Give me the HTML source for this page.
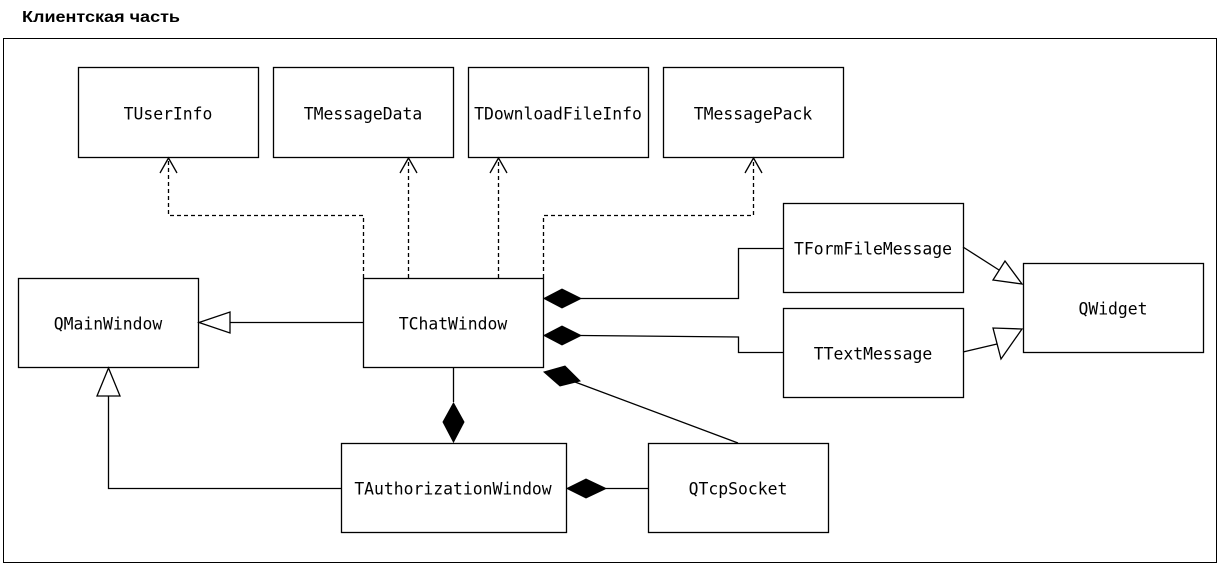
<!DOCTYPE html>
<html><head><meta charset="utf-8"><style>
body{margin:0;background:#fff;width:1222px;height:567px;overflow:hidden}
</style></head><body>
<svg width="1222" height="567" xmlns="http://www.w3.org/2000/svg">
<text x="22" y="22" font-family="Liberation Sans, sans-serif" font-weight="bold" font-size="16" textLength="158" lengthAdjust="spacingAndGlyphs">Клиентская часть</text>
<rect x="3.5" y="38.5" width="1213" height="524" fill="none" stroke="#000" stroke-width="1"/>
<g fill="#fff" stroke="#000" stroke-width="1.3">
<rect x="78.5" y="67.5" width="180" height="90"/>
<rect x="273.5" y="67.5" width="180" height="90"/>
<rect x="468.5" y="67.5" width="180" height="90"/>
<rect x="663.5" y="67.5" width="180" height="90"/>
<rect x="18.5" y="278.5" width="180" height="89"/>
<rect x="363.5" y="278.5" width="180" height="89"/>
<rect x="783.5" y="203.5" width="180" height="89"/>
<rect x="783.5" y="308.5" width="180" height="89"/>
<rect x="1023.5" y="263.5" width="180" height="89"/>
<rect x="341.5" y="443.5" width="225" height="89"/>
<rect x="648.5" y="443.5" width="180" height="89"/>
</g>
<g font-family="DejaVu Sans Mono, Liberation Mono, monospace" font-size="16.4" text-anchor="middle" dominant-baseline="middle">
<text x="168" y="115">TUserInfo</text>
<text x="363" y="115">TMessageData</text>
<text x="558" y="115">TDownloadFileInfo</text>
<text x="753" y="115">TMessagePack</text>
<text x="108" y="325">QMainWindow</text>
<text x="453" y="325">TChatWindow</text>
<text x="873" y="250">TFormFileMessage</text>
<text x="873" y="355">TTextMessage</text>
<text x="1113" y="310">QWidget</text>
<text x="453" y="490">TAuthorizationWindow</text>
<text x="738" y="490">QTcpSocket</text>
</g>
<g fill="none" stroke="#000" stroke-width="1.3" stroke-dasharray="4,3">
<path d="M363.5 278V215.5H168.5V160"/>
<path d="M408.5 278V160"/>
<path d="M498.5 278V160"/>
<path d="M543.5 278V215.5H753.5V160"/>
</g>
<g fill="none" stroke="#000" stroke-width="1.3">
<path d="M160 173L168.5 158L177 173"/>
<path d="M400 173L408.5 158L417 173"/>
<path d="M490 173L498.5 158L507 173"/>
<path d="M745 173L753.5 158L762 173"/>
<path d="M363 322.5H230"/>
<path d="M581 298.5H738.5V248.5H783"/>
<path d="M581 335.5L738.5 337V352.5H783"/>
<path d="M575 382L738 443"/>
<path d="M453.5 367V402"/>
<path d="M341 488.5H108.5V396"/>
<path d="M648 488.5H606"/>
<path d="M963 247L999 270"/>
<path d="M963 352L997 344"/>
</g>
<g fill="#fff" stroke="#000" stroke-width="1.3">
<polygon points="199,322.5 230,312 230,333"/>
<polygon points="108.5,368 97,396 120,396"/>
<polygon points="1022,284 993,280 1005,261"/>
<polygon points="1022,329 993,328 1001,359"/>
</g>
<g fill="#000" stroke="#000">
<polygon points="544,298.5 562,289 581,298.5 562,308"/>
<polygon points="544,335.5 562,326 581,335.5 562,345"/>
<polygon points="544,372 565,366 580,381 560,386"/>
<polygon points="453.5,403 443,422 453.5,442 464,422"/>
<polygon points="567,488.5 586,479 606,488.5 586,498"/>
</g>
</svg>
</body></html>
